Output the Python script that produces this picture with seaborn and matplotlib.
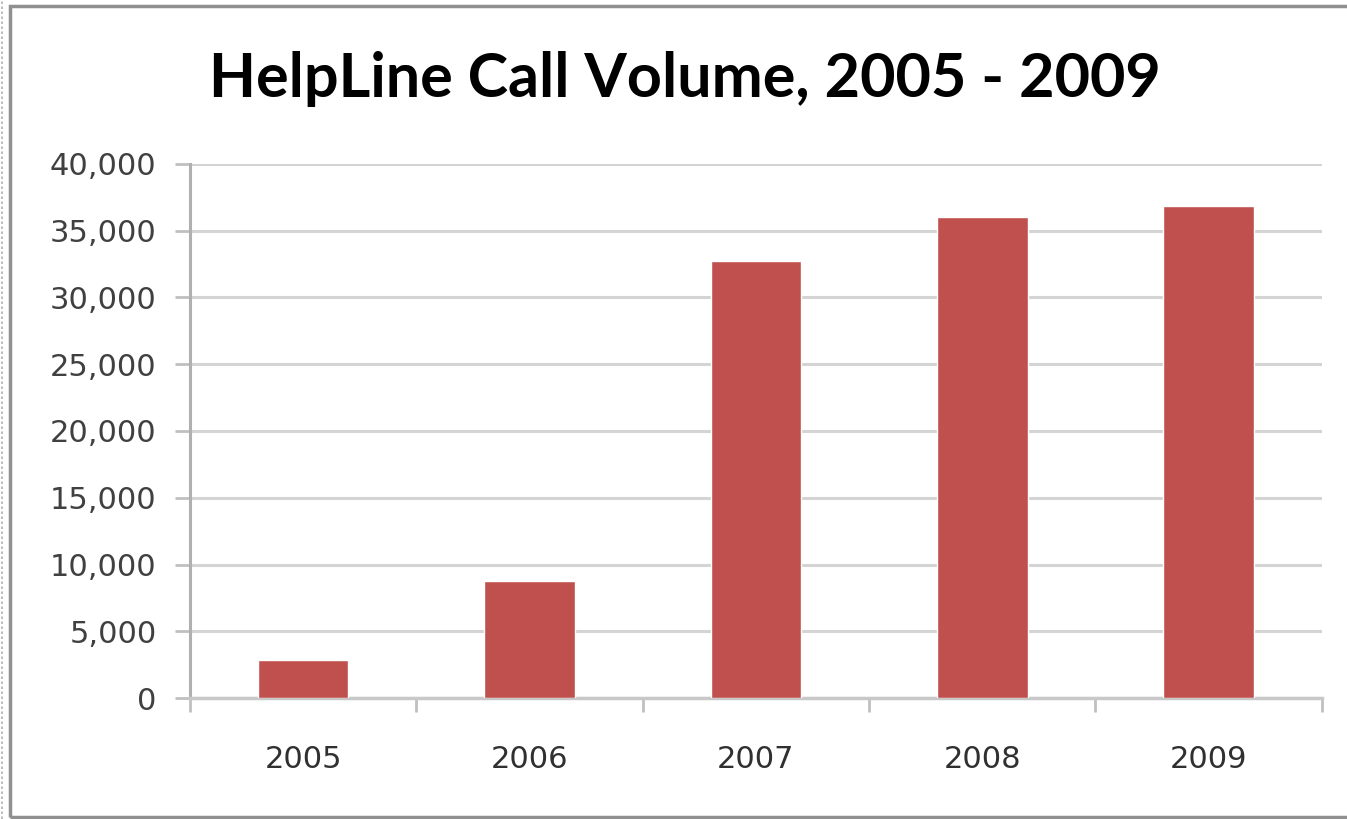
import matplotlib
matplotlib.use("Agg")
import matplotlib.pyplot as plt
import seaborn as sns
import pandas as pd
import numpy as np
from matplotlib.ticker import FuncFormatter, FixedLocator
from matplotlib.patches import Rectangle
from matplotlib.lines import Line2D

years = ["2005", "2006", "2007", "2008", "2009"]
calls = [2850, 8750, 32700, 36000, 36850]
title = "HelpLine Call Volume, 2005 - 2009"

sns.set_theme(style="white")
plt.rcParams["font.family"] = ["DejaVu Sans"]

df = pd.DataFrame({"year": years, "calls": calls})

fig = plt.figure(figsize=(13.47, 8.19), dpi=100)
fig.patch.set_facecolor("white")
ax = fig.add_axes([0.141, 0.1477, 0.8403, 0.6521])

sns.barplot(data=df, x="year", y="calls", color="#C0504D", saturation=1,
            width=0.4, ax=ax, zorder=3)

ax.set_ylim(0, 40000)
ax.set_xlim(-0.5, len(years) - 0.5)
ax.yaxis.set_major_locator(FixedLocator(np.arange(0, 40001, 5000)))
ax.yaxis.set_major_formatter(FuncFormatter(lambda v, p: f"{int(v):,}"))
ax.grid(axis="y", color="#d4d4d4", linewidth=2.2, zorder=0)
ax.set_axisbelow(True)
ax.set_xlabel("")
ax.set_ylabel("")

for s in ["top", "right"]:
    ax.spines[s].set_visible(False)
ax.spines["left"].set_color("#b0b0b0")
ax.spines["left"].set_linewidth(2.2)
ax.spines["bottom"].set_color("#c8c8c8")
ax.spines["bottom"].set_linewidth(2.5)

ax.tick_params(axis="y", which="major", left=True, length=11, width=2,
               color="#c0c0c0", pad=13, labelsize=22, labelcolor="#404040")
ax.tick_params(axis="x", which="major", bottom=False, length=0, pad=34,
               labelsize=22, labelcolor="#303030")
ax.set_xticks(np.arange(-0.5, len(years)), minor=True)
ax.tick_params(axis="x", which="minor", bottom=True, length=10, width=2,
               color="#c0c0c0", direction="out")

fig.text(0.5085, 0.904, title, ha="center", va="center", fontsize=44,
         fontweight="bold", family=["Lato", "DejaVu Sans"], color="black")

# outer chart border
fig.add_artist(Rectangle((10 / 1347, 2 / 819), 1345 / 1347, 811 / 819,
                         transform=fig.transFigure, fill=False,
                         edgecolor="#909090", linewidth=2.5))
fig.add_artist(Line2D([2 / 1347, 2 / 1347], [0, 1], transform=fig.transFigure,
                      color="#b0b0b0", linewidth=1.2, linestyle=(0, (1.5, 1.5))))

fig.savefig("out.png", dpi=100, facecolor="white")
